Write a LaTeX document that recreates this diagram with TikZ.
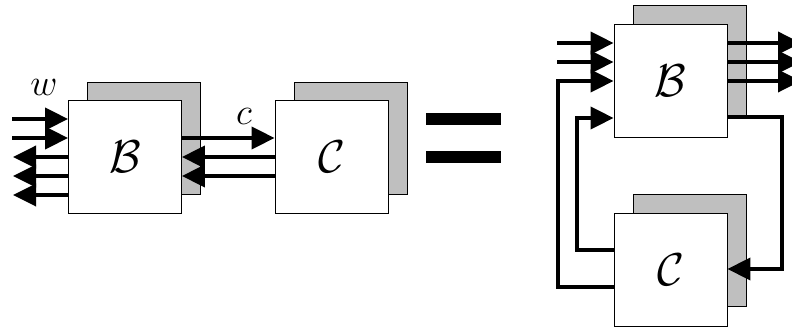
\documentclass[tikz,border=0pt]{standalone}
\usepackage{graphicx}
\usetikzlibrary{arrows.meta}
\newcommand{\bigsym}[1]{\scalebox{1.85}{\Huge$\mathcal{#1}$}}
\newcommand{\labsym}[1]{\scalebox{1.5}{\Huge$#1$}}
\begin{document}
\begin{tikzpicture}[x=1pt,y=-1pt,
  front/.style={draw=black,line width=0.8pt,fill=white,minimum width=113pt,minimum height=113pt,inner sep=0pt},
  shadow/.style={draw=black,line width=0.8pt,fill=black!25,minimum width=113pt,minimum height=112pt,inner sep=0pt},
  arr/.style={line width=3.6pt,-{Triangle[length=23pt,width=22pt]}},
  lab/.style={inner sep=0pt},
  eqbar/.style={fill=black,draw=none,minimum width=75pt,minimum height=12pt,inner sep=0pt}]
\useasboundingbox (0,0) rectangle (792,328);
% shadows
\node[shadow] (lBs) at (143.5,138) {};
\node[shadow] (lCs) at (350.5,138) {};
\node[shadow] (rBs) at (689.5,61.5) {};
\node[shadow] (rCs) at (689.5,250.5) {};
% front boxes
\node[front] (lB) at (125,156.5) {\bigsym{B}};
\node[front] (lC) at (331.5,156.5) {\bigsym{C}};
\node[front] (rB) at (670.5,80.5) {\bigsym{B}};
\node[front] (rC) at (670.5,269.5) {\bigsym{C}};
% labels
\node[lab] (wl) at (44,87) {\labsym{w}};
\node[lab] (cl) at (244,116) {\labsym{c}};
% equals
\node[eqbar] (eq1) at (463.5,119) {};
\node[eqbar] (eq2) at (463.5,157) {};
% left part
\coordinate (wa) at (12,119);
\coordinate (wb) at (12,138);
\coordinate (oa) at (13,157);
\coordinate (ob) at (13,176);
\coordinate (oc) at (13,195);
\draw[arr] (wa) -- (wa -| lB.west);
\draw[arr] (wb) -- (wb -| lB.west);
\draw[arr] (oa -| lB.west) -- (oa);
\draw[arr] (ob -| lB.west) -- (ob);
\draw[arr] (oc -| lB.west) -- (oc);
\draw[arr] (wb -| lB.east) -- (wb -| lC.west);
\draw[arr] (oa -| lC.west) -- (oa -| lB.east);
\draw[arr] (ob -| lC.west) -- (ob -| lB.east);
% right part
\coordinate (ia) at (557,43);
\coordinate (ib) at (557,62);
\coordinate (ic) at (558,81);
\coordinate (id) at (577,118);
\coordinate (qa) at (801,43);
\coordinate (qb) at (801,62);
\coordinate (qc) at (801,81);
\coordinate (rr) at (782,117);
\coordinate (ca) at (577,250);
\coordinate (cb) at (558,287);
\coordinate (cr) at (782,269);
\draw[arr] (ia) -- (ia -| rB.west);
\draw[arr] (ib) -- (ib -| rB.west);
\draw[arr] (qa -| rB.east) -- (qa);
\draw[arr] (qb -| rB.east) -- (qb);
\draw[arr] (qc -| rB.east) -- (qc);
\draw[arr] (rr -| rB.east) -- (rr) -- (cr) -- (cr -| rC.east);
\draw[arr] (ca -| rC.west) -- (ca) -- (id) -- (id -| rB.west);
\draw[arr] (cb -| rC.west) -- (cb) -- (ic) -- (ic -| rB.west);
\end{tikzpicture}
\end{document}
